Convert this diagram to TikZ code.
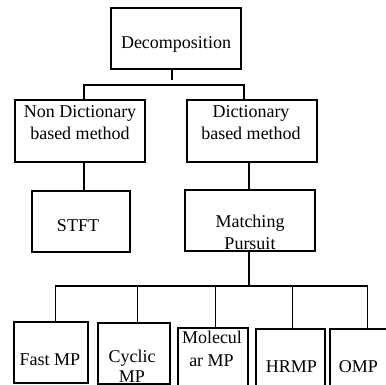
\documentclass[tikz,border=0pt]{standalone}
\usepackage{fontspec}
\setmainfont{Liberation Serif}
\begin{document}
\begin{tikzpicture}[x=1pt,y=-1pt,
  box/.style={draw,line width=1.1pt,rectangle,inner sep=0pt},
  lbl/.style={anchor=base,inner sep=0pt,font=\fontsize{18}{21.5}\selectfont},
  wire/.style={line width=1.1pt}]
\useasboundingbox (0,0) rectangle (386,385);
\clip (0,0) rectangle (386,385);
% boxes, given by their corners
\newcommand{\boxat}[5]{\node[box,minimum width=#4-#2,minimum height=#5-#3] (#1) at ({(#2+#4)/2},{(#3+#5)/2}) {};}
\boxat{decomp}{111}{8}{241}{69}
\boxat{nondict}{15}{100}{145}{162}
\boxat{dict}{187}{100}{317}{162}
\boxat{stft}{32}{191}{130}{252}
\boxat{mp}{185}{190}{315}{251}
\boxat{fast}{14}{322}{88}{383}
\boxat{cyclic}{98}{323}{170}{384}
\boxat{molec}{178}{328}{248}{392}
\boxat{hrmp}{256}{329}{325}{392}
\boxat{omp}{330}{329}{389}{392}
% labels
\node[lbl] (t1) at (176,49) {Decomposition};
\node[lbl] (t2) at (80,118) {Non Dictionary};
\node[lbl] (t3) at (80,140) {based method};
\node[lbl] (t4) at (251,118) {Dictionary};
\node[lbl] (t5) at (251,140) {based method};
\node[lbl] (t6) at (78,232) {STFT};
\node[lbl] (t7) at (250,228) {Matching};
\node[lbl] (t8) at (250,250) {Pursuit};
\node[lbl] (t9) at (50,365) {Fast MP};
\node[lbl] (t10) at (132,362) {Cyclic};
\node[lbl] (t11) at (132,382) {MP};
\node[lbl] (t12) at (212,343) {Molecul};
\node[lbl] (t13) at (211.5,366) {ar MP};
\node[lbl] (t14) at (291.5,372) {HRMP};
\node[lbl] (t15) at (358.5,372) {OMP};
% connectors
\coordinate (stub) at (172,80);
\coordinate (bus1) at (0,85);
\coordinate (bus2) at (0,286);
\draw[wire] (decomp.south -| stub) -- (stub);
\draw[wire] (nondict.north -| 84,0) -- (bus1 -| 84,0) -- (bus1 -| 244,0) -- (dict.north -| 244,0);
\draw[wire] (nondict.south -| 84,0) -- (stft.north -| 84,0);
\draw[wire] (dict.south -| 249,0) -- (mp.north -| 249,0);
\draw[wire] (mp.south -| 249,0) -- (bus2 -| 249,0);
\draw[wire] (fast.north -| 55.7,0) -- (bus2 -| 55.7,0) -- (bus2 -| 367.7,0) -- (omp.north -| 367.7,0);
\draw[wire] (bus2 -| 137.7,0) -- (cyclic.north -| 137.7,0);
\draw[wire] (bus2 -| 215.7,0) -- (molec.north -| 215.7,0);
\draw[wire] (bus2 -| 292.7,0) -- (hrmp.north -| 292.7,0);
\end{tikzpicture}
\end{document}
